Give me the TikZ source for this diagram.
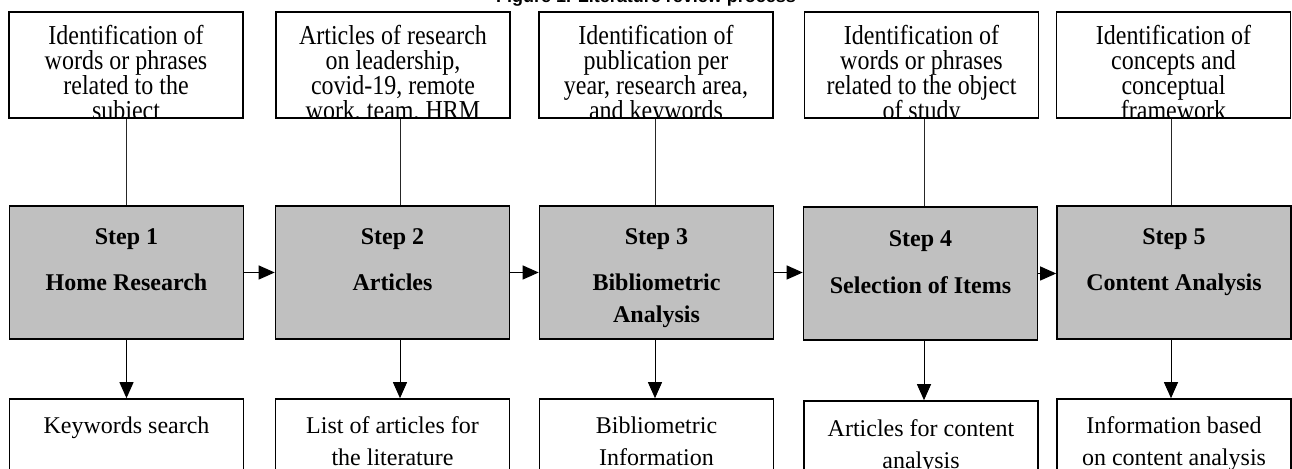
\documentclass[tikz,border=0pt]{standalone}
\usepackage{fontspec}
\usepackage{graphicx}
\setmainfont{Liberation Serif}
\newfontfamily\titlefont{Liberation Sans}
\usetikzlibrary{arrows.meta}
\definecolor{stepgray}{RGB}{192,192,192}
\newcommand{\toptxt}[1]{\scalebox{1}[1.14]{\parbox[t]{117pt}{\centering\fontsize{12}{10.96}\selectfont\lineskiplimit=-5pt\relax #1}}}
\newcommand{\ctxt}[1]{\parbox[t]{117pt}{\centering #1}}
\tikzset{
  topbox/.style={draw=black, line width=0.8pt, minimum width=117pt, minimum height=53pt, inner sep=0pt},
  stepbox/.style={draw=black, fill=stepgray, line width=0.8pt, minimum width=117pt, minimum height=66.5pt, inner sep=0pt},
  botbox/.style={draw=black, line width=0.8pt, minimum width=117pt, minimum height=70pt, inner sep=0pt},
  txt/.style={anchor=base, inner sep=0pt},
  stepfont/.style={font=\fontsize{12}{16}\selectfont\bfseries},
  botfont/.style={font=\fontsize{12}{16}\selectfont},
  link/.style={line width=0.5pt, draw=black!85},
  arr/.style={line width=0.5pt, draw=black, -{Triangle[length=8pt,width=7pt]}},
}
\begin{document}
\begin{tikzpicture}[x=0.5pt, y=-0.5pt]
\path[use as bounding box, clip] (0,0) rectangle (1292,469);

% title (cut by the top edge)
\node[anchor=base, inner sep=0pt, font=\titlefont\bfseries\fontsize{9}{10}\selectfont] (title) at (646,3) {Figure 1. Literature review process};

% column coordinates for connectors
\coordinate (k1) at (126.5,0);
\coordinate (k2) at (400,0);
\coordinate (k3) at (655,0);
\coordinate (k4) at (924,0);
\coordinate (k5) at (1171,0);

% top boxes
\node[topbox] (t1) at (126,65) {};
\node[topbox] (t2) at (393,65) {};
\node[topbox] (t3) at (656,65) {};
\node[topbox] (t4) at (921.5,65) {};
\node[topbox] (t5) at (1173.5,65) {};

\begin{scope}
\clip ([xshift=0.4pt,yshift=0.4pt]t1.south west) rectangle ([xshift=-0.4pt,yshift=-0.4pt]t1.north east);
\node[txt] (tt1) at (126,44.5) {\toptxt{Identification of\\words or phrases\\related to the\\subject}};
\end{scope}
\begin{scope}
\clip ([xshift=0.4pt,yshift=0.4pt]t2.south west) rectangle ([xshift=-0.4pt,yshift=-0.4pt]t2.north east);
\node[txt] (tt2) at (393,44.5) {\toptxt{Articles of research\\on leadership,\\covid-19, remote\\work, team, HRM}};
\end{scope}
\begin{scope}
\clip ([xshift=0.4pt,yshift=0.4pt]t3.south west) rectangle ([xshift=-0.4pt,yshift=-0.4pt]t3.north east);
\node[txt] (tt3) at (656,44.5) {\toptxt{Identification of\\publication per\\year, research area,\\and keywords}};
\end{scope}
\begin{scope}
\clip ([xshift=0.4pt,yshift=0.4pt]t4.south west) rectangle ([xshift=-0.4pt,yshift=-0.4pt]t4.north east);
\node[txt] (tt4) at (921.5,44.5) {\toptxt{Identification of\\words or phrases\\related to the object\\of study}};
\end{scope}
\begin{scope}
\clip ([xshift=0.4pt,yshift=0.4pt]t5.south west) rectangle ([xshift=-0.4pt,yshift=-0.4pt]t5.north east);
\node[txt] (tt5) at (1173.5,44.5) {\toptxt{Identification of\\concepts and\\conceptual\\framework}};
\end{scope}

% step boxes
\node[stepbox] (s1) at (126.5,272.5) {};
\node[stepbox] (s2) at (392.5,272.5) {};
\node[stepbox] (s3) at (656.5,272.5) {};
\node[stepbox] (s4) at (920.5,273.5) {};
\node[stepbox] (s5) at (1174,272.5) {};

\node[txt, stepfont] (sn1) at (126.5,245) {Step 1};
\node[txt, stepfont] (sl1) at (126.5,291) {Home Research};
\node[txt, stepfont] (sn2) at (392.5,245) {Step 2};
\node[txt, stepfont] (sl2) at (392.5,291) {Articles};
\node[txt, stepfont] (sn3) at (656.5,245) {Step 3};
\node[txt, stepfont] (sl3) at (656.5,291) {\ctxt{Bibliometric\\Analysis}};
\node[txt, stepfont] (sn4) at (920.5,247) {Step 4};
\node[txt, stepfont] (sl4) at (920.5,294) {Selection of Items};
\node[txt, stepfont] (sn5) at (1174,245) {Step 5};
\node[txt, stepfont] (sl5) at (1174,291) {Content Analysis};

% bottom boxes
\node[botbox] (b1) at (126.5,469) {};
\node[botbox] (b2) at (392.5,469) {};
\node[botbox] (b3) at (656.5,469) {};
\node[botbox] (b4) at (921,471) {};
\node[botbox] (b5) at (1174,469) {};

\node[txt, botfont] (bt1) at (126.5,434) {Keywords search};
\node[txt, botfont] (bt2) at (392.5,434) {\ctxt{List of articles for\\the literature}};
\node[txt, botfont] (bt3) at (656.5,434) {\ctxt{Bibliometric\\Information}};
\node[txt, botfont] (bt4) at (921,437) {\ctxt{Articles for content\\analysis}};
\node[txt, botfont] (bt5) at (1174,434) {\ctxt{Information based\\on content analysis}};

% connectors top -> step
\draw[link] (t1.south -| k1) -- (s1.north -| k1);
\draw[link] (t2.south -| k2) -- (s2.north -| k2);
\draw[link] (t3.south -| k3) -- (s3.north -| k3);
\draw[link] (t4.south -| k4) -- (s4.north -| k4);
\draw[link] (t5.south -| k5) -- (s5.north -| k5);

% arrows step -> step
\draw[arr] (s1.east) -- (s2.west);
\draw[arr] (s2.east) -- (s3.west);
\draw[arr] (s3.east) -- (s4.west |- s3.east);
\draw[arr] (s4.east) -- (s5.west |- s4.east);

% arrows step -> bottom
\draw[arr] (s1.south -| k1) -- (b1.north -| k1);
\draw[arr] (s2.south -| k2) -- (b2.north -| k2);
\draw[arr] (s3.south -| k3) -- (b3.north -| k3);
\draw[arr] (s4.south -| k4) -- (b4.north -| k4);
\draw[arr] (s5.south -| k5) -- (b5.north -| k5);
\end{tikzpicture}
\end{document}
